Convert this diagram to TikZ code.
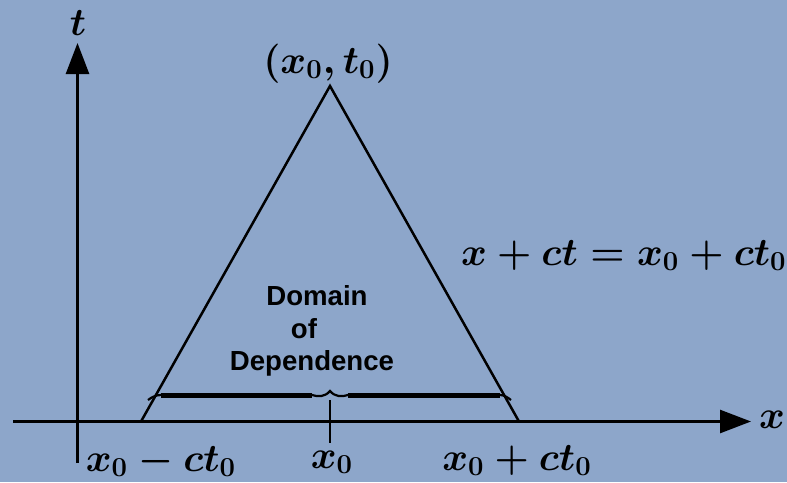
\RequirePackage{fix-cm}
\documentclass[tikz,border=0pt]{standalone}
\usepackage{fontspec}
\newfontfamily\labelsans{Liberation Sans}
\usetikzlibrary{arrows.meta}
\definecolor{bgblue}{RGB}{141,166,202}
\tikzset{
  axisline/.style={line width=1.3pt, -{Triangle[length=15.5pt,width=11.5pt]}},
  triline/.style={line width=1.25pt},
  bracethick/.style={line width=2.5pt},
  bracethin/.style={line width=1.1pt},
  mathlabel/.style={inner sep=0pt, anchor=base, font=\fontsize{19.6}{23}\selectfont\boldmath},
  domlabel/.style={inner sep=0pt, anchor=base, font=\fontsize{13.8}{16}\selectfont\labelsans\bfseries},
}
\begin{document}
\begin{tikzpicture}[x=0.5pt,y=-0.5pt]
  \fill[bgblue] (0,0) rectangle (787,482);
  \useasboundingbox (0,0) rectangle (787,482);
  % axes
  \coordinate (xs) at (13,421.5);
  \coordinate (xe) at (751,421.5);
  \coordinate (ts) at (77.5,463);
  \coordinate (te) at (77.5,43);
  \draw[axisline] (xs) -- (xe);
  \draw[axisline] (ts) -- (te);
  \node[mathlabel] (tlab) at (78,35) {$t$};
  \node[mathlabel] (xlab) at (772,428) {$x$};
  % triangle
  \coordinate (apex) at (330,86);
  \coordinate (bl) at (141,421.5);
  \coordinate (br) at (519,421.5);
  \draw[triline, line join=miter] (bl) -- (apex) -- (br);
  \node[mathlabel] (apexlab) at (328,73) {$(x_0,t_0)$};
  \node[mathlabel, anchor=base east] (charlab) at (787,265) {$x+ct=x_0+ct_0$};
  % brace
  \coordinate (b1) at (148,400);
  \coordinate (b2) at (161,395);
  \coordinate (b3) at (312,395);
  \coordinate (bc) at (330,391);
  \coordinate (b4) at (348,395);
  \coordinate (b5) at (500,395);
  \coordinate (b6) at (511,400);
  \draw[bracethin] (b1) .. controls (152,397) and (156,395) .. (b2);
  \draw[bracethick] (b2) -- (b3);
  \draw[bracethin] (b3) .. controls (318,397) and (325,397) .. (bc)
                        .. controls (335,397) and (342,397) .. (b4);
  \draw[bracethick] (b4) -- (b5);
  \draw[bracethin] (b5) .. controls (504,395) and (507,397) .. (b6);
  % tick at x0
  \coordinate (tk1) at (330,400);
  \coordinate (tk2) at (330,443);
  \draw[line width=1.3pt] (tk1) -- (tk2);
  % axis labels
  \node[mathlabel] (lmin) at (161,471) {$x_0-ct_0$};
  \node[mathlabel] (lmid) at (332,468) {$x_0$};
  \node[mathlabel] (lmax) at (517,470) {$x_0+ct_0$};
  % domain text
  \node[domlabel] (dom1) at (317,305) {Domain};
  \node[domlabel] (dom2) at (304,338) {of};
  \node[domlabel] (dom3) at (312,370) {Dependence};
\end{tikzpicture}
\end{document}
